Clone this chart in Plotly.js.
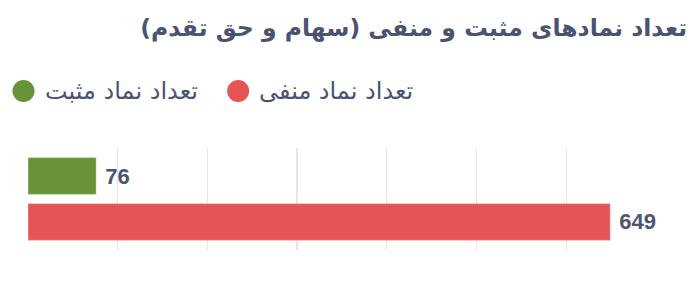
<!DOCTYPE html>
<html>
<head>
<meta charset="utf-8">
<script src="https://cdn.plot.ly/plotly-3.0.1.min.js"></script>
<style>
  html, body { margin: 0; padding: 0; background: #ffffff; }
  #chart { width: 693px; height: 297px; }
</style>
</head>
<body>
<div id="chart"></div>
<script>
// Series names and values
var seriesNames = ['تعداد نماد منفی', 'تعداد نماد مثبت'];
var seriesValues = [649, 76];
var seriesColors = ['#e55555', '#689437'];
var categories = ['neg', 'pos'];
var chartTitle = 'تعداد نمادهای مثبت و منفی (سهام و حق تقدم)';

var W = 693, H = 297;
var M = { l: 27.5, r: 45.5, t: 148, b: 47 };
var plotW = W - M.l - M.r, plotH = H - M.t - M.b;
function px(x) { return (x - M.l) / plotW; }
function py(y) { return (H - M.b - y) / plotH; }

var valueFont = { family: 'Liberation Sans, Arial, sans-serif', size: 22, color: '#4b5573', weight: 'bold' };

var traces = seriesNames.map(function (name, i) {
  return {
    type: 'bar',
    orientation: 'h',
    name: name,
    x: [seriesValues[i]],
    y: [categories[i]],
    marker: { color: seriesColors[i], line: { color: 'rgba(255,255,255,0.35)', width: 1 } },
    texttemplate: '\u00a0%{x}',
    textposition: 'outside',
    cliponaxis: false,
    textfont: valueFont,
    showlegend: false,
    hoverinfo: 'skip'
  };
});

// Legend laid out from the right: first series rightmost, marker before each label
var legendItems = [
  { name: seriesNames[0], color: seriesColors[0], dotX: 238, textLeft: 257 },
  { name: seriesNames[1], color: seriesColors[1], dotX: 23, textLeft: 43 }
];
var legendY = 91;
var shapes = [], annotations = [];
legendItems.forEach(function (it) {
  shapes.push({
    type: 'circle', xref: 'paper', yref: 'paper',
    xsizemode: 'pixel', ysizemode: 'pixel',
    xanchor: px(it.dotX), yanchor: py(legendY),
    x0: -11, x1: 11, y0: -11, y1: 11,
    fillcolor: it.color, line: { width: 0 }
  });
  annotations.push({
    xref: 'paper', yref: 'paper',
    x: px(it.textLeft), y: py(legendY),
    xanchor: 'left', yanchor: 'middle',
    text: it.name, showarrow: false,
    font: { family: 'DejaVu Sans, sans-serif', size: 24, color: '#4a5472' }
  });
});

var layout = {
  width: W, height: H,
  margin: M,
  paper_bgcolor: '#ffffff',
  plot_bgcolor: '#ffffff',
  barmode: 'overlay',
  bargap: 0.2,
  title: {
    text: chartTitle,
    x: 687 / W, xref: 'container', xanchor: 'right',
    y: 1 - 28 / H, yref: 'container', yanchor: 'middle',
    font: { family: 'DejaVu Sans, sans-serif', size: 23.5, color: '#4a5472', weight: 'bold' }
  },
  xaxis: {
    range: [0, 690],
    dtick: 100, tick0: 0,
    showgrid: true, gridcolor: '#e6e6e6', gridwidth: 1.3,
    zeroline: false, showline: false,
    showticklabels: false, ticks: ''
  },
  yaxis: {
    type: 'category',
    categoryorder: 'array', categoryarray: categories,
    range: [-0.609, 1.609],
    showgrid: false, zeroline: false, showline: false,
    showticklabels: false, ticks: ''
  },
  shapes: shapes,
  annotations: annotations
};

Plotly.newPlot('chart', traces, layout, { displayModeBar: false, staticPlot: true });
</script>
</body>
</html>
